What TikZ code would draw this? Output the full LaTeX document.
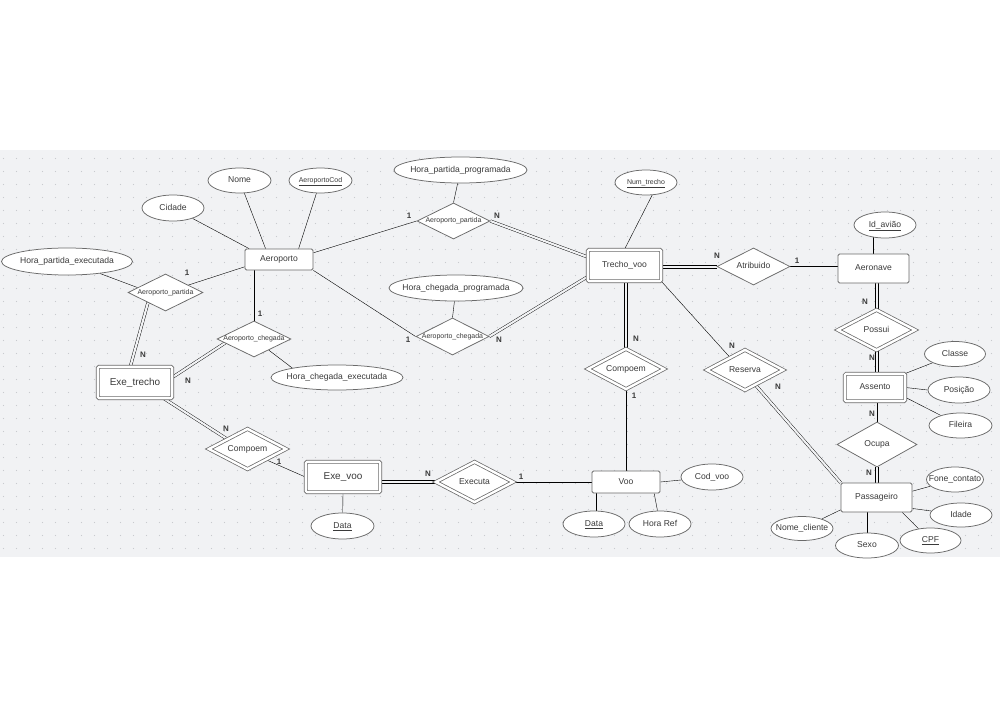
\documentclass[tikz,border=0pt]{standalone}
\usepackage{fontspec}
\setmainfont{Liberation Sans}
\usetikzlibrary{shapes.geometric}

\definecolor{bandbg}{HTML}{F1F2F4}
\definecolor{griddot}{HTML}{C8CACE}
\definecolor{edgecol}{HTML}{6A6A6A}
\definecolor{ink}{HTML}{3A3A3A}

% zero-width label, so the text never widens its shape
\newcommand\ctrtext[1]{\makebox[0pt]{#1}}

\pgfdeclarelayer{bg}
\pgfdeclarelayer{edges}
\pgfsetlayers{bg,edges,main}

\tikzset{
  fnorm/.style={font=\fontsize{8.6}{10}\selectfont, text height=6.3bp, text depth=1.8bp},
  fbig/.style={font=\fontsize{10}{12}\selectfont, text height=7.3bp, text depth=2.1bp},
  fsmall/.style={font=\fontsize{7}{8}\selectfont, text height=5.1bp, text depth=1.5bp},
  ent/.style={rectangle, draw=edgecol, fill=white, rounded corners=1.5bp, inner sep=0pt,
              text=ink, fnorm},
  went/.style={ent, double, double distance=2.4bp},
  rel/.style={diamond, draw=edgecol, fill=white, inner sep=0pt, text=ink, fnorm},
  wrel/.style={rel, double, double distance=2.4bp},
  attr/.style={ellipse, draw=edgecol, fill=white, inner sep=0pt, text=ink, fnorm},
  card/.style={text=ink, inner sep=0pt, font=\bfseries\fontsize{8}{9}\selectfont},
  dbl/.style={double=bandbg, double distance=2.2bp},
}

\begin{document}
\begin{tikzpicture}[x=1bp, y=-1bp, line width=0.75bp, color=edgecol]
\useasboundingbox (0,0) rectangle (1000,707);

% ---------- entities ----------
\node[ent, minimum width=68bp, minimum height=21bp] (aero) at (279,259.5) {Aeroporto};
\node[went, minimum width=73.5bp, minimum height=31.5bp] (tv) at (624.5,265.5) {Trecho\_voo};
\node[ent, minimum width=71bp, minimum height=29bp] (anv) at (873.5,268.5) {Aeronave};
\node[went, minimum width=60.5bp, minimum height=27.5bp] (ast) at (875,387.5) {Assento};
\node[ent, minimum width=71bp, minimum height=29bp] (pas) at (876.5,497.5) {Passageiro};
\node[ent, minimum width=68bp, minimum height=22bp] (voo) at (626,482) {Voo};
\node[went, fbig, minimum width=74.5bp, minimum height=30.5bp] (exv) at (343,477) {Exe\_voo};
\node[went, fbig, minimum width=74.5bp, minimum height=31.5bp] (ext) at (135,382.5) {Exe\_trecho};

% ---------- relationships ----------
\node[rel, fsmall, minimum width=73bp, minimum height=36bp] (apt) at (453.5,221) {\ctrtext{Aeroporto\_partida}};
\node[rel, fsmall, minimum width=73bp, minimum height=37bp] (ach) at (452.5,336.5) {\ctrtext{Aeroporto\_chegada}};
\node[rel, fsmall, minimum width=75bp, minimum height=37bp] (apl) at (165.5,292.5) {\ctrtext{Aeroporto\_partida}};
\node[rel, fsmall, minimum width=74bp, minimum height=36bp] (acl) at (254,339) {\ctrtext{Aeroporto\_chegada}};
\node[wrel, minimum width=77.5bp, minimum height=40.5bp] (cpl) at (247.5,449) {\ctrtext{Compoem}};
\node[wrel, minimum width=77.5bp, minimum height=40.5bp] (exa) at (474.5,482) {\ctrtext{Executa}};
\node[wrel, minimum width=76.5bp, minimum height=40.5bp] (cpc) at (626,369) {\ctrtext{Compoem}};
\node[wrel, minimum width=76.5bp, minimum height=40.5bp] (res) at (745,370) {\ctrtext{Reserva}};
\node[rel, minimum width=73bp, minimum height=37bp] (atr) at (753.5,266.5) {\ctrtext{Atribuido}};
\node[wrel, minimum width=77.5bp, minimum height=40.5bp] (pos) at (876.5,330) {\ctrtext{Possui}};
\node[rel, minimum width=80bp, minimum height=45bp] (ocu) at (877,444.5) {\ctrtext{Ocupa}};

% ---------- attributes ----------
\node[attr, minimum width=63bp, minimum height=25bp] (nome) at (239.5,180.5) {\ctrtext{Nome}};
\node[attr, fsmall, minimum width=63bp, minimum height=25bp] (acod) at (320.5,180.5) {\ctrtext{\underline{AeroportoCod}}};
\node[attr, minimum width=62bp, minimum height=26bp] (cid) at (173,208) {\ctrtext{Cidade}};
\node[attr, minimum width=131bp, minimum height=27bp] (hpe) at (67,261.5) {\ctrtext{Hora\_partida\_executada}};
\node[attr, minimum width=133bp, minimum height=26bp] (hpp) at (460.5,170) {\ctrtext{Hora\_partida\_programada}};
\node[attr, fsmall, minimum width=62bp, minimum height=25bp] (numt) at (646,182.5) {\ctrtext{\underline{Num\_trecho}}};
\node[attr, minimum width=134bp, minimum height=26bp] (hcp) at (456,288) {\ctrtext{Hora\_chegada\_programada}};
\node[attr, minimum width=132bp, minimum height=25bp] (hce) at (337,377.5) {\ctrtext{Hora\_chegada\_executada}};
\node[attr, minimum width=63bp, minimum height=26bp] (dte) at (342.5,526) {\ctrtext{\underline{Data}}};
\node[attr, minimum width=62bp, minimum height=26bp] (dtv) at (594,524) {\ctrtext{\underline{Data}}};
\node[attr, minimum width=62bp, minimum height=26bp] (href) at (660,524) {\ctrtext{Hora Ref}};
\node[attr, minimum width=62bp, minimum height=26bp] (codv) at (712,477) {\ctrtext{Cod\_voo}};
\node[attr, minimum width=62bp, minimum height=26bp] (idav) at (885,225) {\ctrtext{\underline{Id\_avião}}};
\node[attr, minimum width=61bp, minimum height=25bp] (cla) at (955,354) {\ctrtext{Classe}};
\node[attr, minimum width=62bp, minimum height=26bp] (posi) at (959,390) {\ctrtext{Posição}};
\node[attr, minimum width=63bp, minimum height=25bp] (fil) at (960.5,425.5) {\ctrtext{Fileira}};
\node[attr, minimum width=57bp, minimum height=25bp] (fone) at (955,479.5) {\ctrtext{Fone\_contato}};
\node[attr, minimum width=62bp, minimum height=24bp] (ida) at (961,515) {\ctrtext{Idade}};
\node[attr, minimum width=61bp, minimum height=25bp] (cpf) at (930.5,540.5) {\ctrtext{\underline{CPF}}};
\node[attr, minimum width=63bp, minimum height=25bp] (sexo) at (867,545.5) {\ctrtext{Sexo}};
\node[attr, minimum width=62bp, minimum height=24bp] (ncl) at (802,528.5) {\ctrtext{Nome\_cliente}};

% ---------- cardinalities ----------
\node[card] (k01) at (409,216) {1};
\node[card] (k02) at (497,216) {N};
\node[card] (k03) at (408,340) {1};
\node[card] (k04) at (499,340) {N};
\node[card] (k05) at (187,273) {1};
\node[card] (k06) at (143,355) {N};
\node[card] (k07) at (260,314) {1};
\node[card] (k08) at (188,381) {N};
\node[card] (k09) at (226,429) {N};
\node[card] (k10) at (279,462) {1};
\node[card] (k11) at (428,474) {N};
\node[card] (k12) at (521,477) {1};
\node[card] (k13) at (636,339) {N};
\node[card] (k14) at (634,396) {1};
\node[card] (k15) at (732,346) {N};
\node[card] (k16) at (778,387) {N};
\node[card] (k17) at (717,256) {N};
\node[card] (k18) at (797,261) {1};
\node[card] (k19) at (865,302) {N};
\node[card] (k20) at (872,358) {N};
\node[card] (k21) at (872,414) {N};
\node[card] (k22) at (869,473) {N};

% ---------- connectors ----------
\begin{pgfonlayer}{edges}
% Aeroporto
\draw (cid) -- (aero.160);
\draw (nome) -- (aero.141);
\draw (acod) -- (aero.29);
\draw (aero.11) -- (apt.west);
\draw (aero.south east) -- (ach.west);
\draw (acl.north) -- (acl.north |- aero.south);
\draw (aero.192) -- (apl);
\draw (hpp) -- (apt.north);
\draw (hcp) -- (ach.north);
\draw (hpe.-20) -- (apl.170);
\draw (acl.-37) -- (hce.168);
% Trecho_voo
\draw[dbl] (apt.east) -- (tv.167);
\draw[dbl] (ach.east) -- (tv.197);
\draw (numt.-64) -- (tv.north);
\foreach \s in {-1.5,1.5}
  \draw[transform canvas={xshift=\s bp}] (cpc.north) -- (cpc.north |- tv.south);
\foreach \s in {-1.5,1.5}
  \draw[transform canvas={yshift=\s bp}] (tv.east |- atr.west) -- (atr.west);
\draw (tv.south east) -- (res.140);
% Aeronave, Assento, Passageiro
\draw (atr.east) -- (atr.east -| anv.west);
\draw (anv.north) -- (anv.north |- idav);
\foreach \s in {-1.5,1.5} {
  \draw[transform canvas={xshift=\s bp}] (pos.north) -- (pos.north |- anv.south);
  \draw[transform canvas={xshift=\s bp}] (pos.south) -- (pos.south |- ast.north);
  \draw[transform canvas={xshift=\s bp}] (ocu.south) -- (ocu.south |- pas.north);
}
\draw (ocu.north) -- (ocu.north |- ast.south);
\draw (ast.north east) -- (cla);
\draw (ast.east) -- (posi.west);
\draw (ast.-18) -- (fil);
\draw[dbl] (res.-55) -- (pas.north west);
\draw (pas.10) -- (fone);
\draw (pas.-17) -- (ida);
\draw (pas.-30) -- (cpf);
\draw (sexo.north) -- (sexo.north |- pas.south);
\draw (pas.199) -- (ncl);
% Voo
\draw (cpc.south) -- (voo.north);
\draw (exa.east) -- (voo.west);
\draw (voo.east) -- (codv);
\draw (voo.-159) -- (voo.-159 |- dtv);
\draw (voo.-22) -- (href);
% Exe_voo and Exe_trecho
\foreach \s in {-1.5,1.5}
  \draw[transform canvas={yshift=\s bp}] (exa.west) -- (exa.west -| exv.east);
\draw (exv.south) -- (dte);
\draw (cpl.-30) -- (exv.west);
\draw[dbl] (ext.-29) -- (cpl.154);
\draw[dbl] (ext.8) -- (acl.188);
\draw[dbl] (apl.210) -- (ext.106);
\end{pgfonlayer}

% ---------- canvas ----------
\begin{pgfonlayer}{bg}
\fill[white] (0,0) rectangle (1000,707);
\fill[bandbg] (0,150) rectangle (1000,557);
\foreach \i in {0,...,76}
  \foreach \j in {0,...,30}
    \fill[griddot] (3.5+13*\i,158.5+13*\j) circle (0.55);
\end{pgfonlayer}
\end{tikzpicture}
\end{document}
